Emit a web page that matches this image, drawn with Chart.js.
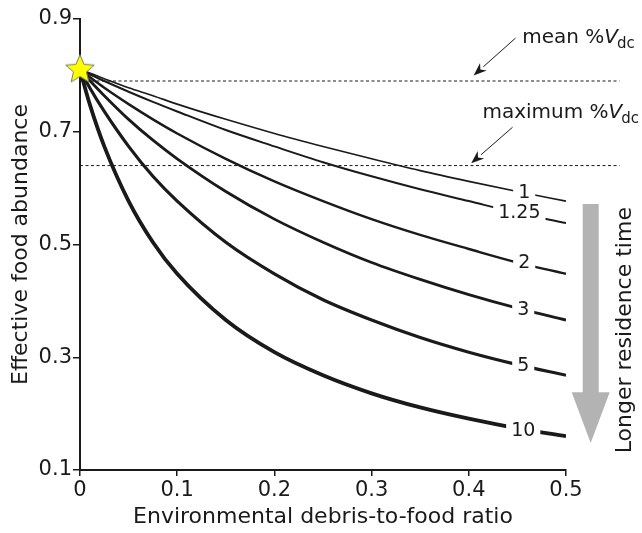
<!DOCTYPE html>
<html>
<head>
<meta charset="utf-8">
<script src="https://cdn.jsdelivr.net/npm/chart.js@4.4.1/dist/chart.umd.min.js"></script>
<style>
  body { margin: 0; background: #fff; }
  canvas { display: block; }
</style>
</head>
<body>
<canvas id="chart" width="642" height="533"></canvas>
<script>
// debris-to-food ratio (x) and effective food abundance for each residence time
const debrisRatio = [0, 0.01, 0.025, 0.05, 0.075, 0.1, 0.15, 0.2, 0.25, 0.3, 0.35, 0.4, 0.45, 0.5];
const abundance1 = [0.81, 0.804, 0.794, 0.778, 0.764, 0.749, 0.722, 0.697, 0.674, 0.652, 0.631, 0.612, 0.594, 0.577];
const abundance125 = [0.81, 0.802, 0.790, 0.771, 0.753, 0.736, 0.703, 0.674, 0.646, 0.621, 0.598, 0.577, 0.556, 0.538];
const abundance2 = [0.81, 0.797, 0.778, 0.749, 0.722, 0.697, 0.652, 0.612, 0.577, 0.545, 0.517, 0.492, 0.468, 0.448];
const abundance3 = [0.81, 0.791, 0.764, 0.722, 0.685, 0.652, 0.594, 0.545, 0.504, 0.468, 0.438, 0.411, 0.387, 0.366];
const abundance5 = [0.81, 0.778, 0.736, 0.674, 0.621, 0.577, 0.504, 0.448, 0.402, 0.366, 0.335, 0.309, 0.287, 0.268];
const abundance10 = [0.81, 0.749, 0.674, 0.577, 0.504, 0.448, 0.366, 0.309, 0.268, 0.236, 0.211, 0.191, 0.174, 0.160];

const curveNames = ['1', '1.25', '2', '3', '5', '10'];
const curveValues = [abundance1, abundance125, abundance2, abundance3, abundance5, abundance10];
const curveWidths = [1.6, 2, 2.4, 2.8, 3.2, 3.8];
// where the residence-time labels sit on each curve
const labelX = [0.457, 0.452, 0.457, 0.456, 0.456, 0.456];
const labelY = [0.593, 0.557, 0.469, 0.385, 0.287, 0.171];

const meanVdc = 0.79;
const maxVdc = 0.64;
const dashEndX = 0.555;
const startPoint = { x: 0, y: 0.81 };

const xTicks = [0, 0.1, 0.2, 0.3, 0.4, 0.5];
const yTicks = [0.1, 0.3, 0.5, 0.7, 0.9];

const FONT = "'DejaVu Sans', Verdana, sans-serif";
const INK = '#1a1a1a';

// yellow star used as the point style for the starting point
function makeStar() {
  const c = document.createElement('canvas');
  c.width = 34; c.height = 34;
  const g = c.getContext('2d');
  const R = 15, r = 6.8, cx = 17, cy = 17;
  g.beginPath();
  for (let i = 0; i < 10; i++) {
    const rad = i % 2 === 0 ? R : r;
    const a = -Math.PI / 2 + i * Math.PI / 5;
    const px = cx + rad * Math.cos(a), py = cy + rad * Math.sin(a);
    if (i === 0) g.moveTo(px, py); else g.lineTo(px, py);
  }
  g.closePath();
  g.fillStyle = '#ffff00';
  g.fill();
  g.lineWidth = 1;
  g.strokeStyle = '#777';
  g.stroke();
  return c;
}

function arrow(ctx, x1, y1, x2, y2) {
  const ang = Math.atan2(y2 - y1, x2 - x1);
  const hl = 13, hw = 5;
  const bx = x2 - hl * Math.cos(ang), by = y2 - hl * Math.sin(ang);
  ctx.beginPath();
  ctx.moveTo(x1, y1);
  ctx.lineTo(bx, by);
  ctx.lineWidth = 1;
  ctx.strokeStyle = INK;
  ctx.stroke();
  ctx.beginPath();
  ctx.moveTo(x2, y2);
  ctx.lineTo(bx + hw * Math.sin(ang), by - hw * Math.cos(ang));
  ctx.lineTo(x2 - (hl - 4) * Math.cos(ang), y2 - (hl - 4) * Math.sin(ang));
  ctx.lineTo(bx - hw * Math.sin(ang), by + hw * Math.cos(ang));
  ctx.closePath();
  ctx.fillStyle = INK;
  ctx.fill();
}

function vdcText(ctx, text, x, y) {
  ctx.textAlign = 'left';
  ctx.textBaseline = 'alphabetic';
  ctx.fillStyle = INK;
  ctx.font = '20px ' + FONT;
  ctx.fillText(text, x, y);
  let w = ctx.measureText(text).width;
  ctx.font = 'italic 20px ' + FONT;
  ctx.fillText('V', x + w, y);
  w += ctx.measureText('V').width;
  ctx.font = '15px ' + FONT;
  ctx.fillText('dc', x + w - 1, y + 5);
}

const annotations = {
  id: 'annotations',
  afterDatasetsDraw(chart) {
    const ctx = chart.ctx;
    const xs = chart.scales.x, ys = chart.scales.y;
    ctx.save();
    // inline curve labels
    ctx.font = '19px ' + FONT;
    ctx.textAlign = 'center';
    ctx.textBaseline = 'middle';
    curveNames.forEach((name, i) => {
      const px = xs.getPixelForValue(labelX[i]);
      const py = ys.getPixelForValue(labelY[i]);
      const w = ctx.measureText(name).width;
      ctx.fillStyle = '#fff';
      ctx.fillRect(px - w / 2 - 5, py - 10, w + 10, 20);
      ctx.fillStyle = INK;
      ctx.fillText(name, px, py + 1);
    });

    // %Vdc annotations
    vdcText(ctx, 'mean %', xs.getPixelForValue(0.455), ys.getPixelForValue(0.857));
    vdcText(ctx, 'maximum %', xs.getPixelForValue(0.414), ys.getPixelForValue(0.724));
    arrow(ctx, xs.getPixelForValue(0.448), ys.getPixelForValue(0.866),
      xs.getPixelForValue(0.405), ys.getPixelForValue(0.800));
    arrow(ctx, xs.getPixelForValue(0.445), ys.getPixelForValue(0.708),
      xs.getPixelForValue(0.4025), ys.getPixelForValue(0.644));

    // grey arrow for residence time
    const ax = xs.getPixelForValue(0.5254);
    const top = ys.getPixelForValue(0.572);
    const neck = ys.getPixelForValue(0.238);
    const tip = ys.getPixelForValue(0.148);
    ctx.fillStyle = '#b3b3b3';
    ctx.beginPath();
    ctx.moveTo(ax - 8, top);
    ctx.lineTo(ax + 8, top);
    ctx.lineTo(ax + 8, neck);
    ctx.lineTo(ax + 19, neck);
    ctx.lineTo(ax, tip);
    ctx.lineTo(ax - 19, neck);
    ctx.lineTo(ax - 8, neck);
    ctx.closePath();
    ctx.fill();

    ctx.translate(xs.getPixelForValue(0.561), ys.getPixelForValue(0.348));
    ctx.rotate(-Math.PI / 2);
    ctx.font = '22px ' + FONT;
    ctx.fillStyle = INK;
    ctx.textAlign = 'center';
    ctx.textBaseline = 'middle';
    ctx.fillText('Longer residence time', 0, 0);
    ctx.restore();
  }
};

const curveSets = curveNames.map((name, i) => ({
  label: name,
  data: debrisRatio.map((x, j) => ({ x: x, y: curveValues[i][j] })),
  borderColor: INK,
  borderWidth: curveWidths[i],
  pointRadius: 0,
  cubicInterpolationMode: 'monotone',
  fill: false
}));

const dashSets = [meanVdc, maxVdc].map(v => ({
  label: 'Vdc ' + v,
  data: [{ x: 0, y: v }, { x: dashEndX, y: v }],
  borderColor: INK,
  borderWidth: 1,
  borderDash: [3, 2.5],
  pointRadius: 0,
  clip: false
}));

const starSet = {
  label: 'start',
  data: [startPoint],
  showLine: false,
  pointStyle: makeStar(),
  pointRadius: 15,
  clip: false,
  order: -1
};

new Chart(document.getElementById('chart'), {
  type: 'line',
  data: { datasets: [starSet].concat(curveSets, dashSets) },
  options: {
    responsive: false,
    animation: false,
    layout: { padding: { top: 19, right: 76, left: 0, bottom: 0 } },
    plugins: { legend: { display: false }, tooltip: { enabled: false } },
    scales: {
      x: {
        type: 'linear',
        min: 0,
        max: 0.5,
        afterFit: s => { s.height = 63; },
        afterBuildTicks: s => { s.ticks = xTicks.map(v => ({ value: v })); },
        ticks: { color: INK, padding: 2, maxRotation: 0, font: { family: FONT, size: 21 } },
        grid: { drawOnChartArea: false, tickLength: 6, color: INK, lineWidth: 1.5 },
        border: { color: INK, width: 2 },
        title: {
          display: true,
          text: 'Environmental debris-to-food ratio',
          color: INK,
          font: { family: FONT, size: 22 },
          padding: { top: 0, bottom: 3 }
        }
      },
      y: {
        min: 0.1,
        max: 0.9,
        afterFit: s => { s.width = 80; },
        afterBuildTicks: s => { s.ticks = yTicks.map(v => ({ value: v })); },
        ticks: { color: INK, padding: 1, font: { family: FONT, size: 21 } },
        grid: { drawOnChartArea: false, tickLength: 7, color: INK, lineWidth: 1.5 },
        border: { color: INK, width: 2 },
        title: {
          display: true,
          text: 'Effective food abundance',
          color: INK,
          font: { family: FONT, size: 22 },
          padding: { top: 8, bottom: 0 }
        }
      }
    }
  },
  plugins: [annotations]
});
</script>
</body>
</html>
